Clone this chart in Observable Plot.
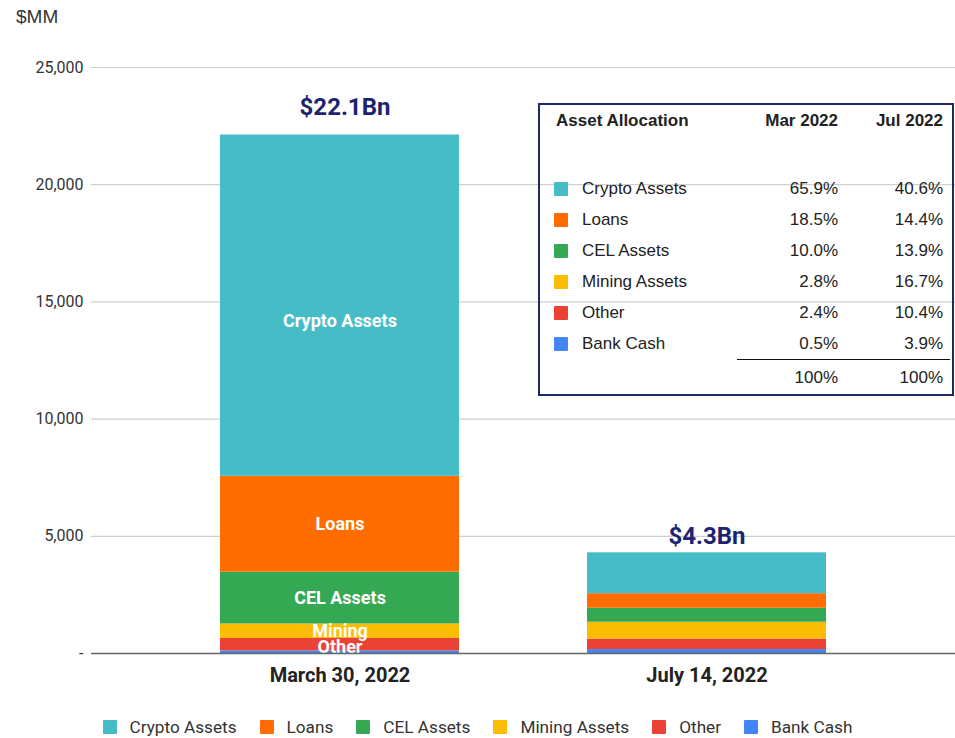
<!DOCTYPE html>
<html>
<head>
<meta charset="utf-8">
<script src="https://cdn.jsdelivr.net/npm/d3@7"></script>
<script src="https://cdn.jsdelivr.net/npm/@observablehq/plot@0.6"></script>
<style>
  html, body { margin: 0; padding: 0; background: #fff; }
  #wrap { position: relative; width: 955px; height: 738px; overflow: hidden; font-family: Roboto, "Liberation Sans", sans-serif; }
  #chart { position: absolute; left: 0; top: 0; }
  #unit { position: absolute; left: 16px; top: 6px; font-family: "Liberation Sans", Arial, sans-serif; font-size: 19px; color: #333; }
  #chart [aria-label^="x-axis"] text, #chart [aria-label^="x-axis"] { font-size: 20px; font-weight: bold; fill: #222; }
  #legend { position: absolute; left: 0; width: 955px; top: 717px; display: flex; justify-content: center; font-family: Roboto, sans-serif; font-size: 17.2px; color: #333; }
  #legend .item { display: flex; align-items: center; margin: 0 11.5px; }
  #legend .sw { width: 14px; height: 14px; margin-right: 13px; border-radius: 1px; }
  #table { position: absolute; left: 538px; top: 103px; width: 416px; height: 293px; box-sizing: border-box; border: 2px solid #1f2766; font-family: "Liberation Sans", Arial, sans-serif; font-size: 17px; color: #222; }
  #table .t { position: absolute; transform: translateY(-50%); line-height: 20px; white-space: nowrap; }
  #table .r { text-align: right; }
  #table .sw { position: absolute; width: 14px; height: 14px; transform: translateY(-50%); border-radius: 1px; }
  #table .line { position: absolute; height: 0; border-top: 1.5px solid #111; }
</style>
</head>
<body>
<div id="wrap">
  <div id="chart"></div>
  <div id="unit">$MM</div>
  <div id="table"></div>
  <div id="legend"></div>
</div>
<script>
const dates = ["March 30, 2022", "July 14, 2022"];
const categories = ["Crypto Assets", "Loans", "CEL Assets", "Mining Assets", "Other", "Bank Cash"];
const colors = ["#46bdc6", "#ff6d01", "#34a853", "#fbbc04", "#ea4335", "#4285f4"];
const marValues = [14560, 4090, 2210, 620, 530, 110];
const julValues = [1745, 620, 598, 718, 447, 168];
const marInsideLabels = ["Crypto Assets", "Loans", "CEL Assets", "Mining", "Other", ""];
const totalLabels = ["$22.1Bn", "$4.3Bn"];
const marShare = [65.9, 18.5, 10.0, 2.8, 2.4, 0.5];
const julShare = [40.6, 14.4, 13.9, 16.7, 10.4, 3.9];
const shareTotals = ["100%", "100%"];
const tableHeader = ["Asset Allocation", "Mar 2022", "Jul 2022"];
const yTicks = [0, 5000, 10000, 15000, 20000, 25000];

// long-format rows, bottom segment first
const rows = [];
for (let i = categories.length - 1; i >= 0; i--) {
  rows.push({date: dates[0], category: categories[i], value: marValues[i], label: marInsideLabels[i]});
  rows.push({date: dates[1], category: categories[i], value: julValues[i], label: ""});
}
const totals = dates.map((d, j) => ({
  date: d,
  total: d3.sum(j === 0 ? marValues : julValues),
  label: totalLabels[j]
}));

const fmt = d3.format(",");
const labelStyle = {fill: "white", fontWeight: "bold", fontSize: 18, fontFamily: "Roboto, sans-serif"};
const totalStyle = {fill: "#1c2470", fontWeight: "bold", fontSize: 24, fontFamily: "Roboto, sans-serif"};
const plot = Plot.plot({
  width: 955,
  height: 700,
  marginLeft: 91,
  marginRight: 0,
  marginTop: 67,
  marginBottom: 47,
  style: {fontFamily: "Roboto, sans-serif", fontSize: "16px", color: "#333", background: "transparent"},
  x: {domain: dates, padding: 0.35, tickSize: 0, tickPadding: 14, label: null},
  y: {domain: [0, 25000], ticks: yTicks, tickSize: 0, tickPadding: 8, label: null,
      tickFormat: d => d === 0 ? "-" : fmt(d)},
  color: {domain: categories, range: colors},
  marks: [
    Plot.ruleY(yTicks.filter(d => d > 0), {stroke: "#cfcfcf", strokeWidth: 1.2}),
    Plot.barY(rows, {x: "date", y: "value", fill: "category", z: "category"}),
    Plot.text(rows, Plot.stackY({x: "date", y: "value", z: "category",
      text: d => d.category === categories[0] || d.category === categories[4] ? "" : d.label, ...labelStyle})),
    Plot.text(rows, Plot.stackY({x: "date", y: "value", z: "category",
      text: d => d.category === categories[0] ? d.label : "", dy: 16, ...labelStyle})),
    Plot.text(rows, Plot.stackY({x: "date", y: "value", z: "category",
      text: d => d.category === categories[4] ? d.label : "", dy: 3, ...labelStyle})),
    Plot.ruleY([0], {stroke: "#666", strokeWidth: 1.5}),
    Plot.text(totals.slice(0, 1), {x: "date", y: "total", text: "label", dy: -28, dx: 5, ...totalStyle}),
    Plot.text(totals.slice(1), {x: "date", y: "total", text: "label", dy: -16, ...totalStyle})
  ]
});
document.getElementById("chart").appendChild(plot);

// legend
const legend = document.getElementById("legend");
categories.forEach((c, i) => {
  const it = document.createElement("div");
  it.className = "item";
  it.innerHTML = `<span class="sw" style="background:${colors[i]}"></span><span>${c}</span>`;
  legend.appendChild(it);
});

// allocation table
const table = document.getElementById("table");
function addText(txt, left, top, opts = {}) {
  const el = document.createElement("div");
  el.className = "t" + (opts.right ? " r" : "");
  el.textContent = txt;
  if (opts.right) { el.style.right = (416 - 4 - left) + "px"; } else { el.style.left = left + "px"; }
  el.style.top = top + "px";
  if (opts.bold) el.style.fontWeight = "bold";
  table.appendChild(el);
}
addText(tableHeader[0], 16, 16, {bold: true});
addText(tableHeader[1], 298, 16, {bold: true, right: true});
addText(tableHeader[2], 403, 16, {bold: true, right: true});
categories.forEach((c, i) => {
  const cy = 84 + 31 * i;
  const sw = document.createElement("div");
  sw.className = "sw";
  sw.style.left = "14px";
  sw.style.top = cy + "px";
  sw.style.background = colors[i];
  table.appendChild(sw);
  addText(c, 42, cy);
  addText(marShare[i].toFixed(1) + "%", 298, cy, {right: true});
  addText(julShare[i].toFixed(1) + "%", 403, cy, {right: true});
});
const line = document.createElement("div");
line.className = "line";
line.style.left = "197px";
line.style.width = "213px";
line.style.top = "254px";
table.appendChild(line);
addText(shareTotals[0], 298, 273, {right: true});
addText(shareTotals[1], 403, 273, {right: true});
</script>
</body>
</html>
